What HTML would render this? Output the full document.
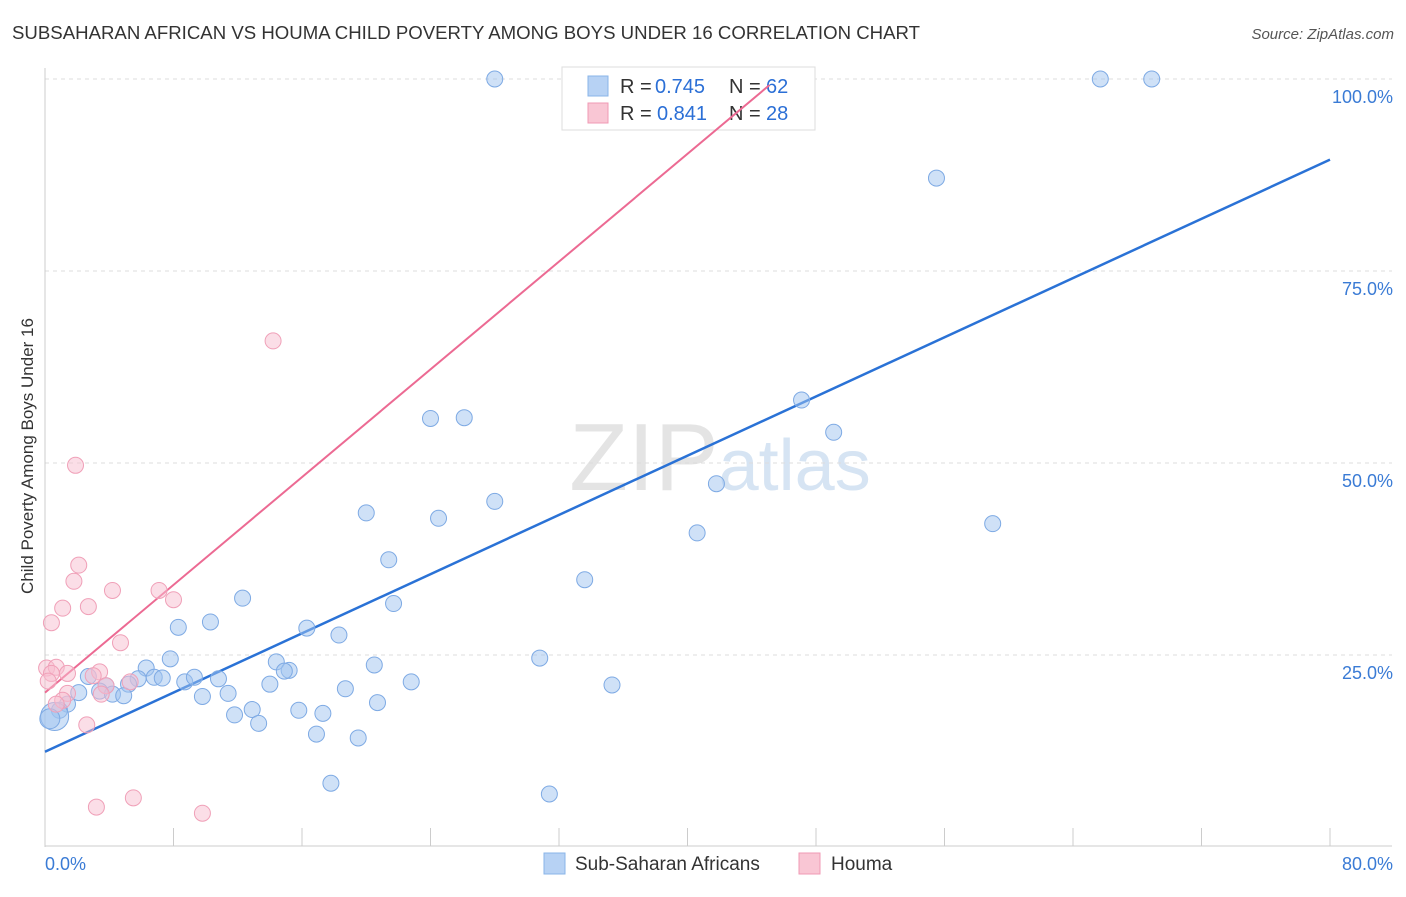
<!DOCTYPE html>
<html><head><meta charset="utf-8"><style>
body{margin:0;background:#fff;font-family:"Liberation Sans",sans-serif;}
svg text{font-family:"Liberation Sans",sans-serif;}
</style></head><body>
<svg id="chart" width="1406" height="892" xmlns="http://www.w3.org/2000/svg">
<text x="12" y="39" font-size="18" fill="#333" textLength="908" lengthAdjust="spacingAndGlyphs">SUBSAHARAN AFRICAN VS HOUMA CHILD POVERTY AMONG BOYS UNDER 16 CORRELATION CHART</text>
<text x="1394" y="39" font-size="15" fill="#555" text-anchor="end" font-style="italic">Source: ZipAtlas.com</text>
<text x="720" y="490" font-size="96" fill="#e4e4e4" text-anchor="middle" font-family="Liberation Serif">ZIP<tspan fill="#d6e4f3" font-family="Liberation Sans" font-size="72">atlas</tspan></text>
<text transform="translate(33,456) rotate(-90)" font-size="17" fill="#333" text-anchor="middle">Child Poverty Among Boys Under 16</text>
<g id="grid"></g><g id="axes"></g>
<g>
<rect x="562" y="67" width="253" height="63" fill="#fff" stroke="#ddd"/>
<rect x="588" y="76" width="20" height="20" fill="#b7d2f4" stroke="#8ab4e8"/>
<rect x="588" y="103" width="20" height="20" fill="#f9c6d4" stroke="#f09ab4"/>
<text x="620" y="93" font-size="20" fill="#333">R =</text>
<text x="655" y="93" font-size="20" fill="#2b6fd6">0.745</text>
<text x="729" y="93" font-size="20" fill="#333">N =</text>
<text x="766" y="93" font-size="20" fill="#2b6fd6">62</text>
<text x="620" y="120" font-size="20" fill="#333">R =</text>
<text x="657" y="120" font-size="20" fill="#2b6fd6">0.841</text>
<text x="729" y="120" font-size="20" fill="#333">N =</text>
<text x="766" y="120" font-size="20" fill="#2b6fd6">28</text>
</g>
<g id="lines"></g><g id="pts"></g>
<g>
<rect x="544" y="853" width="21" height="21" fill="#b7d2f4" stroke="#8ab4e8"/>
<text x="575" y="870" font-size="19" fill="#333">Sub-Saharan Africans</text>
<rect x="799" y="853" width="21" height="21" fill="#f9c6d4" stroke="#f09ab4"/>
<text x="831" y="870" font-size="19" fill="#333">Houma</text>
</g>
</svg>
<script>
const yTicks=[25,50,75,100];
const yTickLabels=["25.0%","50.0%","75.0%","100.0%"];
const xTickLabels=["0.0%","80.0%"];
const blueX=[28,65.7,68.9,55.5,47.1,49.1,24.0,26.1,41.8,28.0,20.0,24.5,59.0,40.6,21.4,33.6,12.3,21.7,10.3,8.3,16.3,18.3,30.8,20.5,7.8,14.4,15.2,6.3,14.9,10.8,8.7,9.3,5.8,6.8,7.3,14.0,22.8,35.3,18.7,3.8,2.7,2.1,3.4,5.2,4.2,4.9,9.8,11.4,20.7,12.9,15.8,11.8,17.3,13.3,1.4,0.9,16.9,19.5,17.8,31.4,0.6,0.3];
const blueY=[100,100,100,87.1,58.2,54.0,55.8,55.9,47.3,45.0,43.5,42.8,42.1,40.9,37.4,34.8,32.4,31.7,29.3,28.6,28.5,27.6,24.6,23.7,24.5,24.1,23.0,23.3,22.9,21.9,21.5,22.1,21.9,22.1,22.0,21.2,21.5,21.1,20.6,21.0,22.2,20.1,20.3,21.2,19.9,19.7,19.6,20.0,18.8,17.9,17.8,17.2,17.4,16.1,18.6,17.8,14.7,14.2,8.3,6.9,17.0,16.7];
const blueR=[8,8,8,8,8,8,8,8,8,8,8,8,8,8,8,8,8,8,8,8,8,8,8,8,8,8,8,8,8,8,8,8,8,8,8,8,8,8,8,8,8,8,8,8,8,8,8,8,8,8,8,8,8,8,8,8,8,8,8,8,14,10];
const pinkX=[14.2,1.9,2.1,1.8,4.2,7.1,8.0,1.1,2.7,0.4,4.7,0.1,0.7,0.4,1.4,3.4,3.0,3.8,5.3,1.4,1.1,3.5,2.6,3.2,5.5,9.8,0.7,0.2];
const pinkY=[65.9,49.7,36.7,34.6,33.4,33.4,32.2,31.1,31.3,29.2,26.6,23.3,23.4,22.6,22.6,22.8,22.3,21.0,21.5,20.0,19.1,19.9,15.9,5.2,6.4,4.4,18.6,21.6];
const blueLine=[12.4,89.5];
const pinkLine=[20.1,99.2,45.1];
const NS="http://www.w3.org/2000/svg";
const xs=v=>45+v*1285/80, ys=v=>847-v*7.68;
function mk(t,a,p){const e=document.createElementNS(NS,t);for(const k in a)e.setAttribute(k,a[k]);p.appendChild(e);return e;}
const grid=document.getElementById('grid'),axes=document.getElementById('axes'),lines=document.getElementById('lines'),pts=document.getElementById('pts');
yTicks.forEach((t,i)=>{
 const l=mk('line',{x1:45,x2:1392,y1:ys(t),y2:ys(t),stroke:'#ddd','stroke-dasharray':'4,4'},grid);
 
 
 const tx=mk('text',{x:1393,y:ys(t)+24,'font-size':18,fill:'#3a7bd5','text-anchor':'end'},axes);tx.textContent=yTickLabels[i];
 
 
});
mk('line',{x1:45,x2:45,y1:68,y2:847,stroke:'#ccc'},axes);
mk('line',{x1:45,x2:1392,y1:846,y2:846,stroke:'#ccc'},axes);
for(let i=0;i<=10;i++){const x=xs(i*8);const t=mk('line',{x1:x,x2:x,y1:828,y2:846,stroke:'#ccc'},axes);
 
 }
let t0=mk('text',{x:45,y:870,'font-size':18,fill:'#3a7bd5'},axes);t0.textContent=xTickLabels[0];


let t1=mk('text',{x:1393,y:870,'font-size':18,fill:'#3a7bd5','text-anchor':'end'},axes);t1.textContent=xTickLabels[1];


for(let i=0;i<blueX.length;i++){const c=mk('circle',{cx:xs(blueX[i]),cy:ys(blueY[i]),r:blueR[i],fill:'rgba(160,195,240,0.5)',stroke:'#7eaae4','stroke-width':1},pts);
 
 }
for(let i=0;i<pinkX.length;i++){const c=mk('circle',{cx:xs(pinkX[i]),cy:ys(pinkY[i]),r:8,fill:'rgba(248,190,208,0.5)',stroke:'#f0a0b8','stroke-width':1},pts);
 
 }
const bl=mk('line',{x1:xs(0),y1:ys(blueLine[0]),x2:xs(80),y2:ys(blueLine[1]),stroke:'#2a72d6','stroke-width':2.5},lines);


const pl=mk('line',{x1:xs(0),y1:ys(pinkLine[0]),x2:xs(pinkLine[2]),y2:ys(pinkLine[1]),stroke:'#ec6a93','stroke-width':2},lines);


</script>
</body></html>
